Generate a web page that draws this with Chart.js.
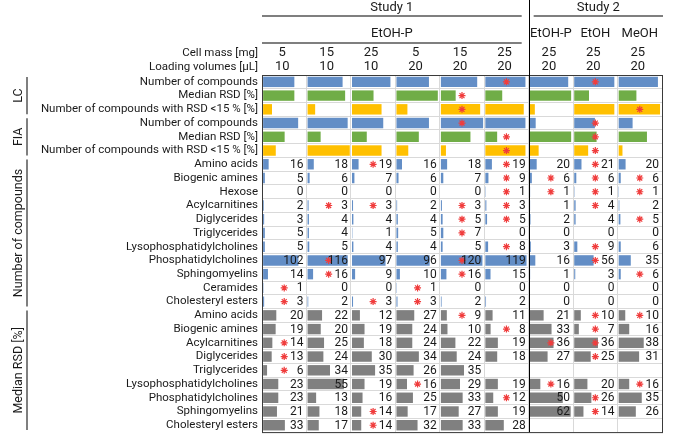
<!DOCTYPE html>
<html>
<head>
<meta charset="utf-8">
<script src="https://cdn.jsdelivr.net/npm/chart.js@4/dist/chart.umd.min.js"></script>
<style>
  body { margin: 0; background: #fff; }
  canvas { display: block; }
</style>
</head>
<body>
<canvas id="studyChart" width="685" height="443"></canvas>
<script>
// column headers
const cellMass = ['5', '15', '25', '5', '15', '25', '25', '25', '25'];
const loadingVolumes = ['10', '10', '10', '20', '20', '20', '20', '20', '20'];
const solvents = ['EtOH-P', 'EtOH', 'MeOH'];

// LC / FIA summary rows (no printed values, bar length as % of the cell)
const lcNumber = [74, 83, 91, 77, 86, 95, 91, 95, 93];
const lcMedianRsd = [74, 89, 51, 98, 35, 40, 98, 35, 42];
const lcBelow15 = [21, 18, 70, 26, 93, 91, 12, 95, 98];
const fiaNumber = [83, 95, 74, 77, 100, 95, 14, 49, 33];
const fiaMedianRsd = [51, 31, 35, 53, 70, 28, 98, 53, 67];
const fiaBelow15 = [30, 100, 70, 28, 12, 95, 21, 33, 9];
const summaryStars = [[5, 7], [4], [4, 8], [4, 7], [5, 7], [5, 7]];

// number of compounds per class
const countClasses = ['Amino acids', 'Biogenic amines', 'Hexose', 'Acylcarnitines', 'Diglycerides',
  'Triglycerides', 'Lysophosphatidylcholines', 'Phosphatidylcholines', 'Sphingomyelins',
  'Ceramides', 'Cholesteryl esters'];
const compoundCounts = [
  [16, 18, 19, 16, 18, 19, 20, 21, 20],
  [5, 6, 7, 6, 7, 9, 6, 6, 6],
  [0, 0, 0, 0, 0, 1, 1, 1, 1],
  [2, 3, 3, 2, 3, 3, 1, 4, 2],
  [3, 4, 4, 4, 5, 5, 2, 4, 5],
  [5, 4, 1, 5, 7, 0, 0, 0, 0],
  [5, 5, 4, 4, 5, 8, 3, 9, 6],
  [102, 116, 97, 96, 120, 119, 16, 56, 35],
  [14, 16, 9, 10, 16, 15, 1, 3, 6],
  [1, 0, 0, 1, 0, 0, 0, 0, 0],
  [3, 2, 3, 3, 2, 2, 0, 0, 0]
];
const countStars = [[2, 5, 7], [5, 6, 7, 8], [5, 6, 7, 8], [1, 2, 4, 5, 7], [4, 5, 8],
  [4], [5, 7], [1, 4, 7], [1, 4, 8], [0, 3], [0, 2, 3]];

// median RSD [%] per class
const rsdClasses = ['Amino acids', 'Biogenic amines', 'Acylcarnitines', 'Diglycerides', 'Triglycerides',
  'Lysophosphatidylcholines', 'Phosphatidylcholines', 'Sphingomyelins', 'Cholesteryl esters'];
const medianRsd = [
  [20, 22, 12, 27, 9, 11, 21, 10, 10],
  [19, 20, 19, 24, 10, 8, 33, 7, 16],
  [14, 25, 18, 24, 22, 19, 36, 36, 38],
  [13, 24, 30, 34, 24, 18, 27, 25, 31],
  [6, 34, 35, 26, 35, null, null, null, null],
  [23, 55, 19, 16, 29, 19, 16, 20, 16],
  [23, 13, 16, 25, 33, 12, 50, 26, 35],
  [21, 18, 14, 17, 27, 19, 62, 14, 26],
  [33, 17, 14, 32, 33, 28, null, null, null]
];
const rsdStars = [[4, 7, 8], [5, 7], [0, 6, 7], [0, 7], [0], [3, 6, 8], [5, 7], [2, 7], [2]];

const BLUE = '#638ec6', GREEN = '#70ad47', GOLD = '#ffc000', GREY = '#808080';
const FONT = 'Roboto, sans-serif';

// build rows
const summaryLabels = ['Number of compounds', 'Median RSD [%]', 'Number of compounds with RSD <15 % [%]'];
const rowLabels = [...summaryLabels, ...summaryLabels, ...countClasses, ...rsdClasses];
const rowColors = [BLUE, GREEN, GOLD, BLUE, GREEN, GOLD]
  .concat(countClasses.map(() => BLUE), rsdClasses.map(() => GREY));
const summaryRows = [lcNumber, lcMedianRsd, lcBelow15, fiaNumber, fiaMedianRsd, fiaBelow15];
// bar length as share of a cell
const rowLengths = summaryRows.map(r => r.map(v => v / 100))
  .concat(compoundCounts.map(r => r.map(v => v / 122)))
  .concat(medianRsd.map(r => r.map(v => v === null ? null : v / 64)));
const rowStars = summaryStars.concat(countStars, rsdStars);
const rowValues = summaryRows.map(r => r.map(() => null)).concat(compoundCounts, medianRsd);

const datasets = [];
for (let c = 0; c < 9; c++) {
  datasets.push({
    type: 'bar',
    order: 2,
    data: rowLengths.map(r => r[c] === null ? null : [c + 0.025, c + 0.025 + r[c] * 0.95]),
    backgroundColor: rowColors,
    borderWidth: 0,
    barPercentage: 0.76,
    categoryPercentage: 1,
    grouped: false
  });
  datasets.push({
    type: 'scatter',
    order: 0,
    data: rowStars.map((s, i) => ({x: s.includes(c) ? c + 0.5 : null, y: i})),
    pointStyle: 'star',
    radius: 3.5,
    borderColor: '#f03c3c',
    borderWidth: 1.2
  });
}

const tablePlugin = {
  id: 'tableText',
  afterDraw(chart) {
    const {ctx, chartArea: a, scales: {x, y}} = chart;
    ctx.save();
    ctx.textBaseline = 'middle';

    // cell values
    ctx.font = '12px ' + FONT;
    ctx.fillStyle = '#1a1a1a';
    ctx.textAlign = 'right';
    rowValues.forEach((r, i) => r.forEach((v, c) => {
      if (v === null) return;
      ctx.fillText(String(v), x.getPixelForValue(c + 1) - 3, y.getPixelForValue(i) + 0.5);
    }));

    // borders
    ctx.strokeStyle = '#3a3a3a';
    ctx.lineWidth = 1;
    ctx.strokeRect(a.left + 0.5, a.top + 0.5, a.right - a.left, a.bottom - a.top);
    const split = Math.round(x.getPixelForValue(6)) + 0.5;
    ctx.strokeStyle = '#000';
    ctx.beginPath();
    ctx.moveTo(split, 0);
    ctx.lineTo(split, a.bottom);
    ctx.stroke();

    // header
    ctx.fillStyle = '#1a1a1a';
    ctx.font = '13px ' + FONT;
    ctx.textAlign = 'center';
    const x0 = x.getPixelForValue(0), x6 = x.getPixelForValue(6), x9 = x.getPixelForValue(9);
    ctx.fillText('Study 1', (x0 + x6 - 7) / 2, 8);
    ctx.fillText('Study 2', (x6 + 5 + x9 + 1) / 2, 8);
    ctx.fillText('EtOH-P', (x0 + x6 - 7) / 2, 34);
    solvents.forEach((s, k) => ctx.fillText(s, x.getPixelForValue(6.5 + k), 34));
    cellMass.forEach((v, c) => ctx.fillText(v, x.getPixelForValue(c + 0.5) - 2, 53));
    loadingVolumes.forEach((v, c) => ctx.fillText(v, x.getPixelForValue(c + 0.5) - 2, 67));
    ctx.textAlign = 'right';
    ctx.font = '11.5px ' + FONT;
    ctx.fillText('Cell mass [mg]', a.left - 4, 53);
    ctx.fillText('Loading volumes [\u00b5L]', a.left - 4, 67);

    ctx.strokeStyle = '#7f7f7f';
    ctx.lineWidth = 2;
    ctx.beginPath();
    ctx.moveTo(x0, 16); ctx.lineTo(x6 - 7, 16);
    ctx.moveTo(x6 + 5, 16); ctx.lineTo(x9 + 1, 16);
    ctx.moveTo(x0, 43); ctx.lineTo(x6 - 7, 43);
    ctx.stroke();

    // row groups on the left
    const groups = [['LC', 0, 2], ['FIA', 3, 5], ['Number of compounds', 6, 16], ['Median RSD [%]', 17, 25]];
    const half = (y.getPixelForValue(1) - y.getPixelForValue(0)) / 2;
    ctx.font = '12.5px ' + FONT;
    ctx.textAlign = 'center';
    groups.forEach(([name, s, e]) => {
      const top = y.getPixelForValue(s) - half + 2, bottom = y.getPixelForValue(e) + half - 2;
      ctx.beginPath();
      ctx.moveTo(27, top); ctx.lineTo(27, bottom);
      ctx.stroke();
      ctx.save();
      ctx.translate(19, (top + bottom) / 2);
      ctx.rotate(-Math.PI / 2);
      ctx.fillText(name, 0, 0);
      ctx.restore();
    });
    ctx.restore();
  }
};

new Chart(document.getElementById('studyChart'), {
  type: 'bar',
  data: {labels: rowLabels, datasets: datasets},
  options: {
    indexAxis: 'y',
    responsive: false,
    animation: false,
    devicePixelRatio: 1,
    layout: {padding: {top: 75, right: 23, bottom: 5, left: 0}},
    plugins: {legend: {display: false}, tooltip: {enabled: false}},
    scales: {
      x: {
        type: 'linear',
        min: 0,
        max: 9,
        ticks: {display: false, stepSize: 1},
        grid: {color: '#d9d9d9', drawTicks: false},
        border: {display: false},
        afterFit: s => { s.height = 0; }
      },
      y: {
        type: 'category',
        ticks: {color: '#1a1a1a', font: {family: FONT, size: 11.5}, padding: 4, autoSkip: false},
        grid: {color: '#d9d9d9', offset: true, drawTicks: false},
        border: {display: false},
        afterFit: s => { s.width = 262; }
      }
    }
  },
  plugins: [tablePlugin]
});
</script>
</body>
</html>
